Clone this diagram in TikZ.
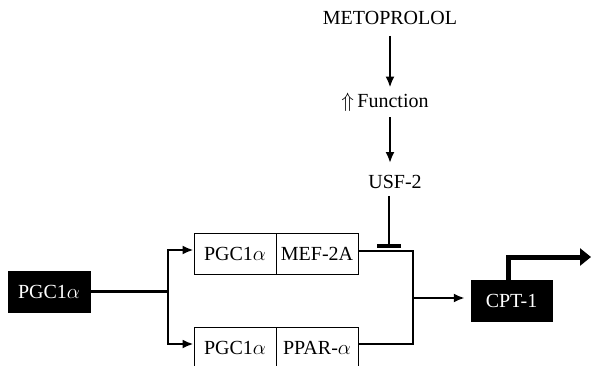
\documentclass[tikz,border=0pt]{standalone}
\usepackage{fontspec}
\setmainfont{Liberation Serif}
\usetikzlibrary{arrows.meta}
\begin{document}
\begin{tikzpicture}[x=1pt,y=-1pt,
  txt/.style={font=\fontsize{20}{24}\selectfont, inner sep=0pt},
  blackbox/.style={txt, draw=black, fill=black, text=white, minimum width=82pt, minimum height=41pt},
  whitebox/.style={txt, draw=black, line width=0.9pt, minimum width=82pt, minimum height=41pt},
  conn/.style={line width=2.3pt, -{Latex[length=11pt,width=9pt]}},
  plain/.style={line width=2.3pt},
]
\clip (0,0) rectangle (591,365);
\node[blackbox] (pgc) at (49,291.5) {PGC1$\alpha$};
\node[whitebox] (t1) at (235,253.5) {PGC1$\alpha$};
\node[whitebox] (t2) at (317,253.5) {MEF-2A};
\node[whitebox] (b1) at (235,347.5) {PGC1$\alpha$};
\node[whitebox] (b2) at (317,347.5) {PPAR-$\alpha$};
\node[blackbox, minimum width=81pt] (cpt) at (511.5,300.5) {CPT-1};
\node[txt] (meto) at (390,18) {METOPROLOL};
\node[txt] (func) at (385,102) {$\Uparrow$\,Function};
\node[txt] (usf) at (395,182) {USF-2};
\coordinate (br) at (168,291.5);
\coordinate (mg) at (413,298);
\coordinate (inh) at (389,247.5);
\coordinate (out) at (591,257);
% top chain
\draw[conn, shorten <=11pt, shorten >=5pt] (meto.south) -- (meto.south |- func.north);
\draw[conn, shorten <=6pt, shorten >=12pt] (meto.south |- func.south) -- (meto.south |- usf.north);
\draw[line width=2.3pt, -{Bar[width=24pt,line width=4pt]}, shorten <=7pt] (inh |- usf.south) -- (inh);
% left branch
\draw[plain] (pgc.east) -- (br);
\draw[conn] (br) |- ([yshift=3.5pt]t1.west);
\draw[conn] (br) |- ([yshift=3.5pt]b1.west);
% right merge
\draw[plain] ([yshift=2.5pt]t2.east) -| (mg) |- ([yshift=3.5pt]b2.east);
\draw[conn, shorten >=6pt] (mg) -- (cpt.west |- mg);
% output
\draw[line width=5pt, -{Triangle[length=11pt,width=17pt]}] ([xshift=-3.5pt]cpt.north) |- (out);
\end{tikzpicture}
\end{document}
